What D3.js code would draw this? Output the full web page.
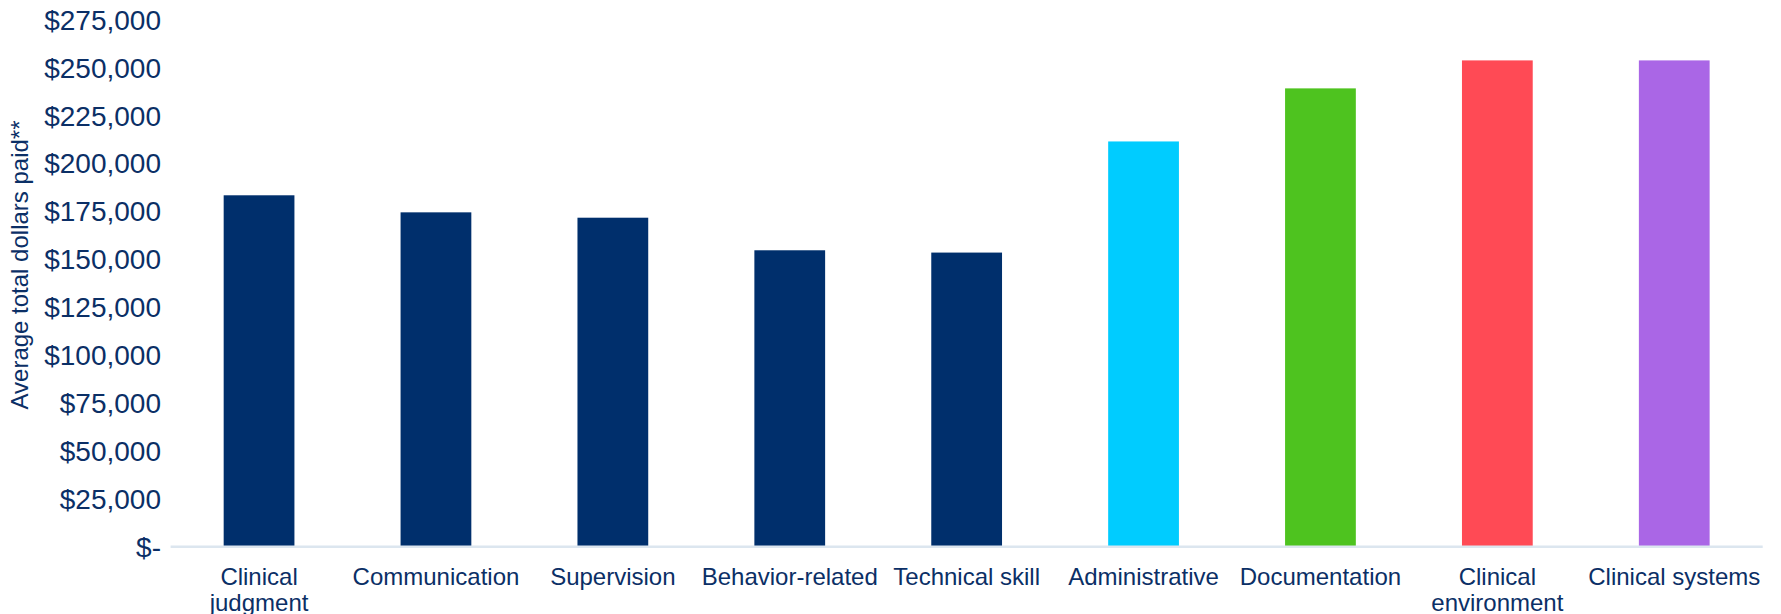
<!DOCTYPE html>
<html>
<head>
<meta charset="utf-8">
<script src="https://cdn.jsdelivr.net/npm/d3@7"></script>
<style>
  html, body { margin: 0; padding: 0; background: #ffffff; }
  svg { display: block; }
  text { font-family: "Liberation Sans", Arial, sans-serif; fill: #0B2F66; }
</style>
</head>
<body>
<svg id="chart" width="1781" height="614"></svg>
<script>
const categories = ["Clinical judgment", "Communication", "Supervision", "Behavior-related", "Technical skill", "Administrative", "Documentation", "Clinical environment", "Clinical systems"];
const values = [183200, 174300, 171500, 154500, 153300, 211300, 239000, 253600, 253600];
const barColors = ["#002F6C", "#002F6C", "#002F6C", "#002F6C", "#002F6C", "#00CCFF", "#4EC31F", "#FF4A55", "#AA66E6"];
const yTicks = [0, 25000, 50000, 75000, 100000, 125000, 150000, 175000, 200000, 225000, 250000, 275000];
const yTitle = "Average total dollars paid**";

const svg = d3.select("#chart");
const plot = { left: 170.6, right: 1762.7, top: 19.4, bottom: 546.3 };

const x = d3.scaleBand().domain(categories).range([plot.left, plot.right]).paddingInner(0.6).paddingOuter(0.3);
const y = d3.scaleLinear().domain([0, 275000]).range([plot.bottom, plot.top]);

const fmt = v => v === 0 ? "$-" : "$" + d3.format(",")(v);
const FONT = '"Liberation Sans", Arial, sans-serif';

// y axis labels
const yAxis = d3.axisLeft(y).tickValues(yTicks).tickFormat(fmt).tickSize(0).tickPadding(0);
const gy = svg.append("g").attr("transform", `translate(161,0)`).call(yAxis);
gy.select(".domain").remove();
gy.selectAll("text").attr("font-size", 28).style("font-family", FONT).attr("fill", "#0B2F66").attr("dy", "0.35em");

// bars
svg.append("g").selectAll("rect").data(categories).join("rect")
  .attr("x", d => x(d))
  .attr("width", x.bandwidth())
  .attr("y", (d, i) => y(values[i]))
  .attr("height", (d, i) => y(0) - y(values[i]))
  .attr("fill", (d, i) => barColors[i]);

// baseline
svg.append("line")
  .attr("x1", plot.left).attr("x2", plot.right)
  .attr("y1", y(0) + 0.5).attr("y2", y(0) + 0.5)
  .attr("stroke", "#DCE6EF").attr("stroke-width", 2.5);

// x labels
const xAxis = d3.axisBottom(x).tickSize(0).tickPadding(0);
const gx = svg.append("g").attr("transform", `translate(0,${y(0)})`).call(xAxis);
gx.select(".domain").remove();
gx.selectAll("text")
  .attr("font-size", 24)
  .style("font-family", FONT)
  .attr("fill", "#0B2F66")
  .attr("y", 30)
  .attr("dy", "0.35em")
  .each(function(d) {
    const t = d3.select(this);
    const len = this.getComputedTextLength();
    if (len > x.step() * 1.02) {
      const words = d.split(" ");
      t.text(null);
      words.forEach((w, i) => {
        t.append("tspan").attr("x", 0).attr("dy", i === 0 ? "0.35em" : "1.1em").text(w);
      });
    }
  });

// y title
svg.append("text")
  .attr("transform", `translate(20,265) rotate(-90)`)
  .attr("text-anchor", "middle")
  .attr("dy", "0.35em")
  .attr("font-size", 24)
  .text(yTitle);
</script>
</body>
</html>
